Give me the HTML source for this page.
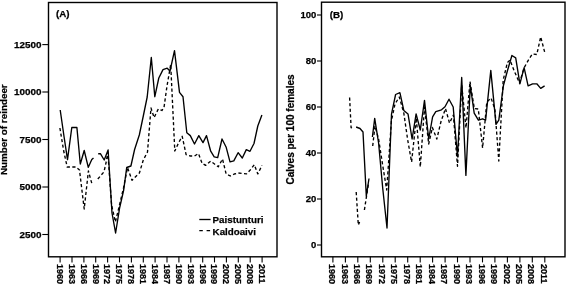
<!DOCTYPE html>
<html><head><meta charset="utf-8"><title>Reindeer</title>
<style>
html,body{margin:0;padding:0;background:#fff}
svg{display:block}
text{font-family:"Liberation Sans",Arial,sans-serif;font-weight:bold;fill:#000;stroke:#000;stroke-width:0.25px}
.t{font-size:9.5px}
.ta{font-size:9.9px}
.x{font-size:9.05px}
.l{font-size:9.75px}
.yt{font-size:9.85px}
.yt2{font-size:10px}
</style></head><body>
<svg width="567" height="285" viewBox="0 0 567 285">
<rect width="567" height="285" fill="#fff"/>
<rect x="48.5" y="2.5" width="228.5" height="254.3" fill="none" stroke="#000" stroke-width="1.4"/>
<rect x="321.5" y="2.2" width="243.5" height="254.60000000000002" fill="none" stroke="#000" stroke-width="1.4"/>
<g stroke="#000" stroke-width="1.1" fill="none">
<line x1="42.3" y1="44.6" x2="48.5" y2="44.6"/>
<line x1="42.3" y1="92" x2="48.5" y2="92"/>
<line x1="42.3" y1="139.5" x2="48.5" y2="139.5"/>
<line x1="42.3" y1="187" x2="48.5" y2="187"/>
<line x1="42.3" y1="234.5" x2="48.5" y2="234.5"/>
<line x1="317" y1="15" x2="321.5" y2="15"/>
<line x1="317" y1="61" x2="321.5" y2="61"/>
<line x1="317" y1="107" x2="321.5" y2="107"/>
<line x1="317" y1="153" x2="321.5" y2="153"/>
<line x1="317" y1="199" x2="321.5" y2="199"/>
<line x1="317" y1="245" x2="321.5" y2="245"/>
<line x1="60.1" y1="256.8" x2="60.1" y2="262.4"/>
<line x1="332.9" y1="256.8" x2="332.9" y2="262.4"/>
<line x1="72.0" y1="256.8" x2="72.0" y2="262.4"/>
<line x1="345.4" y1="256.8" x2="345.4" y2="262.4"/>
<line x1="83.9" y1="256.8" x2="83.9" y2="262.4"/>
<line x1="357.8" y1="256.8" x2="357.8" y2="262.4"/>
<line x1="95.7" y1="256.8" x2="95.7" y2="262.4"/>
<line x1="370.3" y1="256.8" x2="370.3" y2="262.4"/>
<line x1="107.6" y1="256.8" x2="107.6" y2="262.4"/>
<line x1="382.8" y1="256.8" x2="382.8" y2="262.4"/>
<line x1="119.5" y1="256.8" x2="119.5" y2="262.4"/>
<line x1="395.2" y1="256.8" x2="395.2" y2="262.4"/>
<line x1="131.4" y1="256.8" x2="131.4" y2="262.4"/>
<line x1="407.7" y1="256.8" x2="407.7" y2="262.4"/>
<line x1="143.3" y1="256.8" x2="143.3" y2="262.4"/>
<line x1="420.2" y1="256.8" x2="420.2" y2="262.4"/>
<line x1="155.1" y1="256.8" x2="155.1" y2="262.4"/>
<line x1="432.6" y1="256.8" x2="432.6" y2="262.4"/>
<line x1="167.0" y1="256.8" x2="167.0" y2="262.4"/>
<line x1="445.1" y1="256.8" x2="445.1" y2="262.4"/>
<line x1="178.9" y1="256.8" x2="178.9" y2="262.4"/>
<line x1="457.5" y1="256.8" x2="457.5" y2="262.4"/>
<line x1="190.8" y1="256.8" x2="190.8" y2="262.4"/>
<line x1="470.0" y1="256.8" x2="470.0" y2="262.4"/>
<line x1="202.7" y1="256.8" x2="202.7" y2="262.4"/>
<line x1="482.5" y1="256.8" x2="482.5" y2="262.4"/>
<line x1="214.5" y1="256.8" x2="214.5" y2="262.4"/>
<line x1="494.9" y1="256.8" x2="494.9" y2="262.4"/>
<line x1="226.4" y1="256.8" x2="226.4" y2="262.4"/>
<line x1="507.4" y1="256.8" x2="507.4" y2="262.4"/>
<line x1="238.3" y1="256.8" x2="238.3" y2="262.4"/>
<line x1="519.9" y1="256.8" x2="519.9" y2="262.4"/>
<line x1="250.2" y1="256.8" x2="250.2" y2="262.4"/>
<line x1="532.3" y1="256.8" x2="532.3" y2="262.4"/>
<line x1="262.1" y1="256.8" x2="262.1" y2="262.4"/>
<line x1="544.8" y1="256.8" x2="544.8" y2="262.4"/>
</g>
<text x="41.5" y="48.0" text-anchor="end" class="ta">12500</text>
<text x="41.5" y="95.4" text-anchor="end" class="ta">10000</text>
<text x="41.5" y="142.9" text-anchor="end" class="ta">7500</text>
<text x="41.5" y="190.4" text-anchor="end" class="ta">5000</text>
<text x="41.5" y="237.9" text-anchor="end" class="ta">2500</text>
<text x="316.4" y="18.3" text-anchor="end" class="t">100</text>
<text x="316.4" y="64.3" text-anchor="end" class="t">80</text>
<text x="316.4" y="110.3" text-anchor="end" class="t">60</text>
<text x="316.4" y="156.3" text-anchor="end" class="t">40</text>
<text x="316.4" y="202.3" text-anchor="end" class="t">20</text>
<text x="316.4" y="248.3" text-anchor="end" class="t">0</text>
<text transform="translate(56.9,264) rotate(90)" class="x">1960</text>
<text transform="translate(329.0,264) rotate(90)" class="x">1960</text>
<text transform="translate(68.8,264) rotate(90)" class="x">1963</text>
<text transform="translate(341.5,264) rotate(90)" class="x">1963</text>
<text transform="translate(80.7,264) rotate(90)" class="x">1966</text>
<text transform="translate(353.9,264) rotate(90)" class="x">1966</text>
<text transform="translate(92.5,264) rotate(90)" class="x">1969</text>
<text transform="translate(366.4,264) rotate(90)" class="x">1969</text>
<text transform="translate(104.4,264) rotate(90)" class="x">1972</text>
<text transform="translate(378.9,264) rotate(90)" class="x">1972</text>
<text transform="translate(116.3,264) rotate(90)" class="x">1975</text>
<text transform="translate(391.3,264) rotate(90)" class="x">1975</text>
<text transform="translate(128.2,264) rotate(90)" class="x">1978</text>
<text transform="translate(403.8,264) rotate(90)" class="x">1978</text>
<text transform="translate(140.1,264) rotate(90)" class="x">1981</text>
<text transform="translate(416.3,264) rotate(90)" class="x">1981</text>
<text transform="translate(151.9,264) rotate(90)" class="x">1984</text>
<text transform="translate(428.7,264) rotate(90)" class="x">1984</text>
<text transform="translate(163.8,264) rotate(90)" class="x">1987</text>
<text transform="translate(441.2,264) rotate(90)" class="x">1987</text>
<text transform="translate(175.7,264) rotate(90)" class="x">1990</text>
<text transform="translate(453.6,264) rotate(90)" class="x">1990</text>
<text transform="translate(187.6,264) rotate(90)" class="x">1993</text>
<text transform="translate(466.1,264) rotate(90)" class="x">1993</text>
<text transform="translate(199.5,264) rotate(90)" class="x">1996</text>
<text transform="translate(478.6,264) rotate(90)" class="x">1996</text>
<text transform="translate(211.3,264) rotate(90)" class="x">1999</text>
<text transform="translate(491.0,264) rotate(90)" class="x">1999</text>
<text transform="translate(223.2,264) rotate(90)" class="x">2002</text>
<text transform="translate(503.5,264) rotate(90)" class="x">2002</text>
<text transform="translate(235.1,264) rotate(90)" class="x">2005</text>
<text transform="translate(516.0,264) rotate(90)" class="x">2005</text>
<text transform="translate(247.0,264) rotate(90)" class="x">2008</text>
<text transform="translate(528.4,264) rotate(90)" class="x">2008</text>
<text transform="translate(258.9,264) rotate(90)" class="x">2011</text>
<text transform="translate(540.9,264) rotate(90)" class="x">2011</text>
<text transform="translate(6.9,129.7) rotate(-90)" text-anchor="middle" class="yt">Number of reindeer</text>
<text transform="translate(293.7,129.5) rotate(-90)" text-anchor="middle" class="yt2">Calves per 100 females</text>
<text x="56" y="17.0" class="l">(A)</text>
<text x="329.7" y="17.7" class="l">(B)</text>
<g stroke="#000" stroke-width="1.35" fill="none" stroke-linejoin="round">
<polyline points="60.2,110.0 64.1,137.0 67.5,159.6 71.8,127.5 76.9,127.5 80.3,164.0 84.2,150.5 88.3,167.3 91.8,159.5 93.5,158.0"/>
<polyline points="98.2,153.7 100.4,153.7 104.2,160.0 108.1,150.0 112.0,213.0 115.6,233.0 119.7,207.5 123.7,190.0 126.7,167.5 130.9,166.0 134.6,149.5 139.3,135.0 143.3,116.0 147.2,97.0 151.3,57.5 154.8,96.7 158.8,78.0 163.0,69.6 167.2,68.2 170.0,71.0 174.5,50.6 179.5,92.4 183.0,96.7 186.8,132.8 190.3,135.6 194.5,144.0 198.8,135.6 203.0,142.6 206.5,135.6 210.7,151.2 214.2,156.8 217.7,157.6 222.0,139.0 226.2,147.3 230.0,161.9 233.8,160.9 238.1,152.7 242.3,158.0 246.3,149.6 250.0,151.3 254.0,143.5 257.8,126.0 261.9,115.0"/>
<polyline points="59.9,128.0 63.7,151.0 67.2,167.0 72.0,167.0 75.9,167.0 79.5,170.0 84.2,209.0 88.4,171.0 92.1,184.5" stroke-dasharray="3.2 2.4"/>
<polyline points="97.8,179.0 104.0,171.8 106.2,162.0 107.8,152.0 111.6,205.0 115.4,222.0 119.5,205.0 123.5,188.0 127.5,167.5 132.0,180.3 135.3,177.0 139.4,173.0 143.3,160.0 147.5,152.0 151.0,108.0 154.1,117.6 158.3,109.0 161.9,110.5 164.0,107.5 167.0,86.0 170.7,64.5 174.8,151.0 178.5,143.0 182.2,136.3 186.1,154.6 190.5,156.0 194.5,156.0 198.5,153.5 202.1,163.3 205.6,165.4 210.6,161.2 214.5,164.0 218.3,166.8 222.5,159.0 226.1,173.9 230.3,176.0 234.3,174.0 238.3,173.0 242.3,173.5 246.5,173.9 250.2,170.0 254.3,164.7 257.8,173.9 262.0,165.4" stroke-dasharray="3.2 2.4"/>
<polyline points="356.1,127.0 360.0,128.5 363.0,132.0 366.3,196.0 369.0,178.5"/>
<polyline points="372.4,137.0 374.7,118.4 378.6,143.0 382.8,189.0 387.0,228.0 391.5,114.2 395.6,94.5 399.9,92.7 403.8,110.4 408.0,113.9 412.1,139.0 416.1,113.9 420.3,130.0 424.5,100.4 428.7,139.0 432.6,116.8 435.8,111.6 441.5,109.8 445.0,106.8 449.0,99.2 453.2,107.0 457.5,156.7 461.7,77.5 465.9,175.4 470.3,85.5 474.2,113.2 478.4,120.2 482.6,118.8 485.6,120.2 490.8,70.4 496.0,124.4 498.8,120.2 503.5,85.2 507.5,70.5 511.9,55.5 515.7,57.8 519.9,83.8 524.1,67.6 528.1,85.9 532.6,83.8 536.8,83.8 540.7,88.4 544.6,85.9"/>
<polyline points="349.6,97.5 351.1,127.7 353.3,128.2" stroke-dasharray="3.2 2.4"/>
<polyline points="356.2,192.0 358.3,225.0 359.6,222.0" stroke-dasharray="3.2 2.4"/>
<polyline points="364.4,210.0 368.4,184.0" stroke-dasharray="3.2 2.4"/>
<polyline points="372.7,146.0 375.0,126.0 378.6,139.0 382.8,166.0 386.7,190.0 391.4,121.0 395.0,104.0 399.3,97.0 403.8,113.0 407.7,140.0 411.6,162.0 416.3,118.0 420.3,167.0 424.5,107.0 428.7,144.0 432.4,127.5 436.8,139.0 441.0,121.5 445.5,108.5 449.5,123.0 453.4,115.0 457.5,166.3 461.7,85.0 466.0,128.0 470.0,81.5 474.3,108.5 478.3,109.0 482.6,148.0 486.8,102.0 491.0,98.0 494.9,109.0 498.8,161.0 503.2,80.0 507.4,62.5 510.0,60.0 514.0,70.4 519.5,83.0 524.0,68.0 528.1,60.6 532.3,54.0 536.8,54.5 540.7,36.9 544.9,53.0" stroke-dasharray="3.2 2.4"/>
<line x1="199.3" y1="219.5" x2="210.6" y2="219.5"/>
<line x1="199.3" y1="230.6" x2="210.6" y2="230.6" stroke-dasharray="3.5 3.8"/>
</g>
<text x="212.6" y="223.4" class="l">Paistunturi</text>
<text x="212.6" y="235" class="l">Kaldoaivi</text>
</svg>
</body></html>
